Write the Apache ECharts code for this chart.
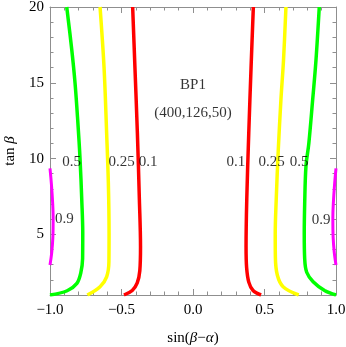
<!DOCTYPE html>
<html>
<head>
<meta charset="utf-8">
<script src="https://cdn.jsdelivr.net/npm/echarts@6/dist/echarts.min.js"></script>
<style>
html, body { margin: 0; padding: 0; background: #fff; }
#chart { width: 346px; height: 347px; }
</style>
</head>
<body>
<div id="chart"></div>
<script>
// tick values
var xTicks = [-1, -0.5, 0, 0.5, 1];
var yTicks = [5, 10, 15, 20];
var yMinorTicks = [1, 2, 3, 4, 6, 7, 8, 9, 11, 12, 13, 14, 16, 17, 18, 19];

// contour lines, [sin(beta-alpha), tan beta]
var red1 = [[-0.422, 20], [-0.406, 16], [-0.389, 11.7], [-0.375, 7.3], [-0.367, 4.2], [-0.372, 2.6], [-0.39, 1.8], [-0.425, 1.3], [-0.483, 1]];
var red2 = [[0.422, 20], [0.406, 16], [0.39, 11.7], [0.376, 7.3], [0.371, 4.2], [0.375, 2.8], [0.39, 1.85], [0.42, 1.3], [0.476, 1]];
var yellow1 = [[-0.65, 20], [-0.622, 16], [-0.604, 11.7], [-0.592, 8.4], [-0.587, 5.1], [-0.588, 3.2], [-0.604, 2.2], [-0.65, 1.55], [-0.739, 1]];
var yellow2 = [[0.65, 20], [0.633, 16.5], [0.615, 13.9], [0.596, 10.5], [0.582, 7.3], [0.575, 5], [0.576, 3.5], [0.59, 2.3], [0.63, 1.55], [0.739, 1]];
var green1 = [[-0.883, 20], [-0.848, 17.2], [-0.825, 15], [-0.806, 12.5], [-0.79, 10], [-0.778, 7.3], [-0.771, 5.1], [-0.772, 3.4], [-0.785, 2.45], [-0.812, 1.77], [-0.88, 1.28], [-1, 1]];
var green2 = [[0.883, 20], [0.86, 16.5], [0.837, 13.9], [0.81, 11], [0.79, 9.5], [0.781, 7], [0.778, 5], [0.781, 3.4], [0.795, 2.5], [0.84, 1.88], [0.92, 1.3], [1, 1]];
var magenta1 = [[-1, 9.36], [-0.99, 8.3], [-0.981, 7], [-0.978, 6.1], [-0.98, 4.8], [-0.988, 3.8], [-1, 2.98]];
var magenta2 = [[1, 9.36], [0.99, 8.3], [0.981, 7], [0.978, 6.1], [0.98, 4.8], [0.988, 3.8], [1, 2.98]];

// contour labels and benchmark text
var labelText = ['0.5', '0.25', '0.1', '0.1', '0.25', '0.5', '0.9', '0.9', 'BP1', '(400,126,50)'];
var labelX = [-0.848, -0.499, -0.313, 0.299, 0.55, 0.743, -0.899, 0.896, 0, 0];
var labelY = [9.8, 9.8, 9.8, 9.8, 9.8, 9.8, 6.0, 5.95, 14.85, 13.0];

var chart = echarts.init(document.getElementById('chart'));

var font = 'Liberation Serif';
var frameColor = '#8f8f8f';

function fmtX(v) {
  return (v < 0 ? '\u2212' : '') + Math.abs(v).toFixed(1);
}

function contour(data, color, width) {
  return {
    type: 'line',
    data: data,
    smooth: 0.35,
    symbol: 'none',
    lineStyle: { color: color, width: width || 3.5 },
    z: 2
  };
}

var labelData = labelText.map(function (t, i) {
  return { name: t, value: [labelX[i], labelY[i]] };
});

var yBase = {
  type: 'value',
  min: 1,
  max: 20,
  splitLine: { show: false }
};

var option = {
  backgroundColor: '#fff',
  animation: false,
  grid: { left: 50, right: 10, top: 7, bottom: 52, outerBoundsMode: 'none', containLabel: false },
  xAxis: [{
    type: 'value',
    min: -1,
    max: 1,
    interval: 0.5,
    position: 'bottom',
    name: '{a|sin(}{b|β}{a|\u2212}{b|α}{a|)}',
    nameLocation: 'middle',
    nameGap: 36,
    nameTextStyle: {
      rich: {
        a: { fontFamily: font, fontSize: 15, color: '#000' },
        b: { fontFamily: font, fontSize: 15, fontStyle: 'italic', color: '#000' }
      }
    },
    axisLine: { onZero: false, lineStyle: { color: frameColor, width: 1 } },
    axisTick: { inside: true, length: 6, lineStyle: { color: frameColor } },
    minorTick: { show: true, splitNumber: 5, length: 3.5, lineStyle: { color: frameColor } },
    axisLabel: { margin: 8, fontFamily: font, fontSize: 15, color: '#000', formatter: fmtX, customValues: xTicks },
    splitLine: { show: false }
  }, {
    type: 'value',
    min: -1,
    max: 1,
    interval: 0.5,
    position: 'top',
    axisLine: { onZero: false, lineStyle: { color: frameColor, width: 1 } },
    axisTick: { inside: true, length: 6, lineStyle: { color: frameColor } },
    minorTick: { show: true, splitNumber: 5, length: 3.5, lineStyle: { color: frameColor } },
    axisLabel: { show: false },
    splitLine: { show: false }
  }],
  yAxis: [
    Object.assign({}, yBase, {
      position: 'left',
      name: '{a|tan }{b|β}',
      nameLocation: 'middle',
      nameGap: 32,
      nameRotate: 90,
      nameTextStyle: {
        rich: {
          a: { fontFamily: font, fontSize: 15, color: '#000' },
          b: { fontFamily: font, fontSize: 15, fontStyle: 'italic', color: '#000' }
        }
      },
      axisLine: { show: true, onZero: false, lineStyle: { color: frameColor, width: 1 } },
      axisTick: { show: true, inside: true, length: 6, customValues: yTicks, lineStyle: { color: frameColor } },
      axisLabel: { margin: 6, fontFamily: font, fontSize: 15, color: '#000', customValues: yTicks }
    }),
    Object.assign({}, yBase, {
      position: 'left',
      axisLine: { show: false, onZero: false },
      axisTick: { show: true, inside: true, length: 3.5, customValues: yMinorTicks, lineStyle: { color: frameColor } },
      axisLabel: { show: false }
    }),
    Object.assign({}, yBase, {
      position: 'right',
      axisLine: { show: true, onZero: false, lineStyle: { color: frameColor, width: 1 } },
      axisTick: { show: true, inside: true, length: 6, customValues: yTicks, lineStyle: { color: frameColor } },
      axisLabel: { show: false }
    }),
    Object.assign({}, yBase, {
      position: 'right',
      axisLine: { show: false, onZero: false },
      axisTick: { show: true, inside: true, length: 3.5, customValues: yMinorTicks, lineStyle: { color: frameColor } },
      axisLabel: { show: false }
    })
  ],
  series: [
    contour(magenta1, '#ff00ff', 3),
    contour(magenta2, '#ff00ff', 3),
    contour(green1, '#00ff00'),
    contour(green2, '#00ff00'),
    contour(yellow1, '#ffff00'),
    contour(yellow2, '#ffff00'),
    contour(red1, '#ff0000'),
    contour(red2, '#ff0000'),
    {
      type: 'scatter',
      data: labelData,
      symbolSize: 0,
      z: 5,
      label: {
        show: true,
        position: 'inside',
        formatter: function (p) { return p.name; },
        fontFamily: font,
        fontSize: 15,
        color: '#000'
      }
    }
  ]
};

chart.setOption(option);
</script>
</body>
</html>
